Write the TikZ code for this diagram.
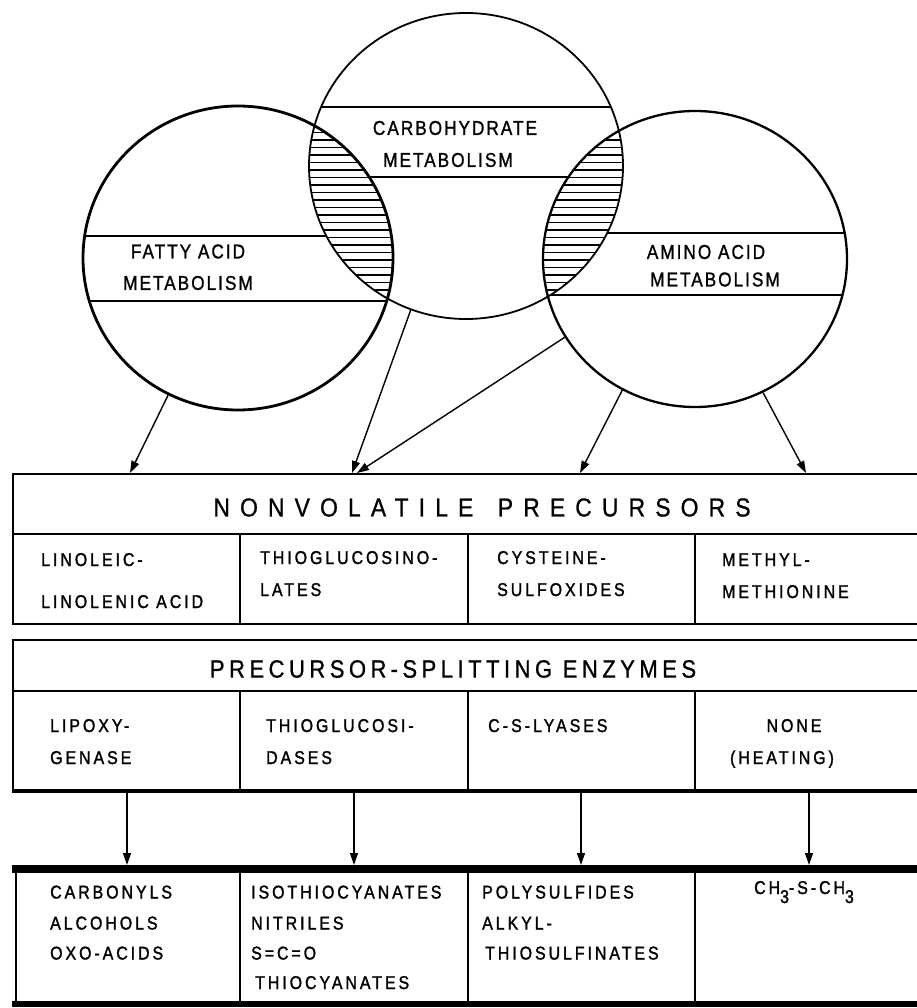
\documentclass[tikz,border=0pt]{standalone}
\usepackage{fontspec}
\setmainfont{Liberation Sans}
\newfontfamily\lblfont{Liberation Sans}[FakeStretch=0.86,LetterSpace=10,FakeBold=1.2]
\newfontfamily\cellfont{Liberation Sans}[FakeStretch=0.86,LetterSpace=16,FakeBold=1.5]
\newfontfamily\titlefonta{Liberation Sans}[FakeStretch=0.88,LetterSpace=39,FakeBold=0.8]
\newfontfamily\titlefontb{Liberation Sans}[FakeStretch=0.88,LetterSpace=18,FakeBold=0.8]
\usetikzlibrary{arrows.meta,shapes.geometric}
\begin{document}
\begin{tikzpicture}[x=1pt,y=-1pt,
  circ/.style={ellipse, draw, inner sep=0pt},
  lbl/.style={font=\lblfont\fontsize{20}{24}\selectfont, inner sep=0pt},
  cell/.style={font=\cellfont\fontsize{18.5}{22}\selectfont, anchor=base west, inner sep=0pt},
  cellc/.style={font=\cellfont\fontsize{18.5}{22}\selectfont, anchor=base, inner sep=0pt},
  arr/.style={line width=1.4pt, -{Triangle[length=12pt,width=8pt]}},
  band/.style={line width=1.3pt},
  hatch/.style={line width=1.1pt},
  boxline/.style={line width=2.2pt},
  box/.style={draw, line width=2.2pt, rectangle, inner sep=0pt, anchor=north west}
]
\useasboundingbox (0,0) rectangle (917,1008);
\fill[white] (0,0) rectangle (917,1008);

% band lines inside circles
\begin{scope}
  \clip (238,258) ellipse [x radius=155, y radius=152];
  \draw[band] (0,236) -- (917,236) (0,301) -- (917,301);
\end{scope}
\begin{scope}
  \clip (466,166) ellipse [x radius=157, y radius=153];
  \draw[band] (0,107) -- (917,107) (0,177) -- (917,177);
\end{scope}
\begin{scope}
  \clip (695,259) ellipse [x radius=152, y radius=148];
  \draw[band] (0,233) -- (917,233) (0,295) -- (917,295);
\end{scope}

% lenses: white then hatched
\begin{scope}
  \clip (238,258) ellipse [x radius=155, y radius=152];
  \clip (466,166) ellipse [x radius=157, y radius=153];
  \fill[white] (0,0) rectangle (917,500);
  \foreach \y in {110,117.5,...,300} \draw[hatch] (250,\y) -- (450,\y);
\end{scope}
\begin{scope}
  \clip (695,259) ellipse [x radius=152, y radius=148];
  \clip (466,166) ellipse [x radius=157, y radius=153];
  \fill[white] (0,0) rectangle (917,500);
  \foreach \y in {110,117.5,...,300} \draw[hatch] (500,\y) -- (700,\y);
\end{scope}

% circles
\node[circ, line width=2.8pt, minimum width=310pt, minimum height=304pt] (fat) at (238,258) {};
\node[circ, line width=1.8pt, minimum width=314pt, minimum height=306pt] (carb) at (466,166) {};
\node[circ, line width=2.3pt, minimum width=304pt, minimum height=296pt] (amino) at (695,259) {};

% circle labels
\node[lbl] (fa1) at (188,251.5) {FATTY ACID};
\node[lbl] (fa2) at (188,283) {METABOLISM};
\node[lbl] (ca1) at (455,128) {CARBOHYDRATE};
\node[lbl] (ca2) at (448,160) {METABOLISM};
\node[lbl] (am1) at (706,252) {AMINO ACID};
\node[lbl] (am2) at (715,279.5) {METABOLISM};

% box 1: nonvolatile precursors
\node[box, minimum width=913pt, minimum height=150pt] (np) at (12,473) {};
\draw[boxline] (12,534) -- (925,534);
\foreach \x in {240,468,695} \draw[boxline] (\x,534) -- (\x,623);
\node[font=\titlefonta\fontsize{26}{30}\selectfont, inner sep=0pt] (t1) at (482,507.5) {NONVOLATILE\hspace{8pt} PRECURSORS};
\node[cell] (n1a) at (41,566) {LINOLEIC-};
\node[cell] (n1b) at (41,608) {LINOLENIC ACID};
\node[cell] (n2a) at (260,564) {THIOGLUCOSINO-};
\node[cell] (n2b) at (260,596) {LATES};
\node[cell] (n3a) at (497,564) {CYSTEINE-};
\node[cell] (n3b) at (497,596) {SULFOXIDES};
\node[cell] (n4a) at (722,566) {METHYL-};
\node[cell] (n4b) at (722,598) {METHIONINE};

% box 2: enzymes
\node[box, minimum width=913pt, minimum height=152pt] (ez) at (12,639) {};
\draw[boxline] (12,691) -- (925,691);
\draw[line width=3.5pt] (12,791) -- (925,791);
\foreach \x in {240,468,695} \draw[boxline] (\x,691) -- (\x,791);
\node[font=\titlefontb\fontsize{25}{30}\selectfont, inner sep=0pt] (t2) at (453,669) {PRECURSOR\,-SPLITTING ENZYMES};
\node[cell] (e1a) at (50,732) {LIPOXY-};
\node[cell] (e1b) at (50,764) {GENASE};
\node[cell] (e2a) at (266,732) {THIOGLUCOSI-};
\node[cell] (e2b) at (266,764) {DASES};
\node[cell] (e3a) at (488,732) {C\,-\,S-\,LYASES};
\node[cellc] (e4a) at (794,732) {NONE};
\node[cellc] (e4b) at (782,764) {(HEATING)};

% box 3: products
\node[box, minimum width=910pt, minimum height=136pt] (pr) at (15,869) {};
\draw[line width=8pt] (12,869) -- (925,869);
\draw[line width=6pt] (12,1004) -- (925,1004);
\foreach \x in {240,468,695} \draw[boxline] (\x,869) -- (\x,1004);
\node[cell] (p1a) at (50,898.5) {CARBONYLS};
\node[cell] (p1b) at (50,929.5) {ALCOHOLS};
\node[cell] (p1c) at (50,959.5) {OXO-ACIDS};
\node[cell] (p2a) at (251,898.5) {ISOTHIOCYANATES};
\node[cell] (p2b) at (251,929.5) {NITRILES};
\node[cell] (p2c) at (251,959.5) {S=C=O};
\node[cell] (p2d) at (255,989) {THIOCYANATES};
\node[cell] (p3a) at (482,898.5) {POLYSULFIDES};
\node[cell] (p3b) at (482,929.5) {ALKYL-};
\node[cell] (p3c) at (485,959.5) {THIOSULFINATES};
\node[cell] (p4a) at (754,894) {CH\raisebox{-9pt}{3}-S-CH\raisebox{-9pt}{3}};

% arrow endpoints
\coordinate (a1) at (130,473);
\coordinate (a2) at (352,473);
\coordinate (a3) at (357,473);
\coordinate (a4) at (580,473);
\coordinate (a5) at (806,473);
\draw[arr] (fat.-117) -- (a1);
\draw[arr] (carb.-111) -- (a2);
\draw[arr] (amino.-149) -- (a3);
\draw[arr] (amino.-119) -- (a4);
\draw[arr] (amino.-63) -- (a5);

\foreach \i/\x in {1/127,2/354,3/581,4/809}{
  \coordinate (s\i) at (\x,792);
  \coordinate (d\i) at (\x,865);
  \draw[arr] (s\i) -- (d\i);
}
\end{tikzpicture}
\end{document}
